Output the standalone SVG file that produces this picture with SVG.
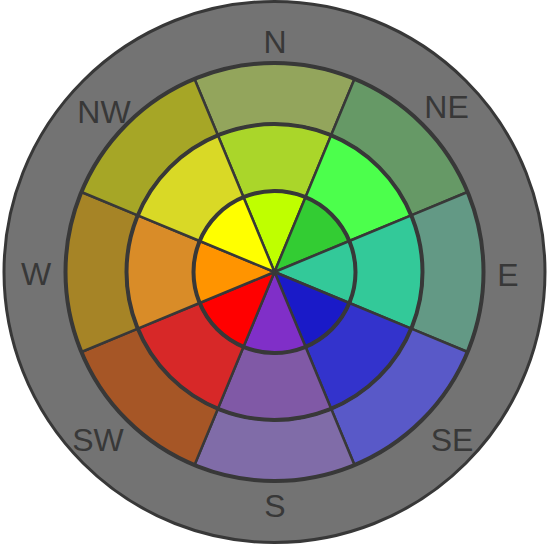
<svg xmlns="http://www.w3.org/2000/svg" xmlns:xlink="http://www.w3.org/1999/xlink" width="550" height="546" viewBox="0 0 550 546">
<style>
  .sec { stroke: #383838; stroke-width: 2.5; stroke-linejoin: round; }
  .ring { fill: none; stroke: #383838; stroke-width: 4; }
  .lbl { font-family: "Liberation Sans", Arial, sans-serif; font-size: 32px; fill: #383838; text-anchor: middle; }
</style>
<defs>
  <path id="po" d="M -79.98 -193.09 A 209 209 0 0 1 79.98 -193.09 L 56.64 -136.73 A 148 148 0 0 0 -56.64 -136.73 Z"/>
  <path id="pm" d="M -56.64 -136.73 A 148 148 0 0 1 56.64 -136.73 L 31 -74.83 A 81 81 0 0 0 -31 -74.83 Z"/>
  <path id="pi" d="M -31 -74.83 A 81 81 0 0 1 31 -74.83 L 0 0 Z"/>
</defs>
<g id="background">
  <circle cx="274.5" cy="272" r="270.5" fill="#737373" stroke="#383838" stroke-width="3"/>
</g>
<g transform="translate(274.5,272)">
  <g id="sector-N">
    <use xlink:href="#po" class="sec" fill="#93A55C"/>
    <use xlink:href="#pm" class="sec" fill="#AAD62A"/>
    <use xlink:href="#pi" class="sec" fill="#BFFF00"/>
  </g>
  <g id="sector-NE" transform="rotate(45)">
    <use xlink:href="#po" class="sec" fill="#669966"/>
    <use xlink:href="#pm" class="sec" fill="#4CFF4C"/>
    <use xlink:href="#pi" class="sec" fill="#33CC33"/>
  </g>
  <g id="sector-E" transform="rotate(90)">
    <use xlink:href="#po" class="sec" fill="#639985"/>
    <use xlink:href="#pm" class="sec" fill="#33C999"/>
    <use xlink:href="#pi" class="sec" fill="#33C999"/>
  </g>
  <g id="sector-SE" transform="rotate(135)">
    <use xlink:href="#po" class="sec" fill="#5959C8"/>
    <use xlink:href="#pm" class="sec" fill="#3333CC"/>
    <use xlink:href="#pi" class="sec" fill="#1A1AC8"/>
  </g>
  <g id="sector-S" transform="rotate(180)">
    <use xlink:href="#po" class="sec" fill="#806CA8"/>
    <use xlink:href="#pm" class="sec" fill="#8059A6"/>
    <use xlink:href="#pi" class="sec" fill="#802FC8"/>
  </g>
  <g id="sector-SW" transform="rotate(225)">
    <use xlink:href="#po" class="sec" fill="#A65626"/>
    <use xlink:href="#pm" class="sec" fill="#D72828"/>
    <use xlink:href="#pi" class="sec" fill="#FF0000"/>
  </g>
  <g id="sector-W" transform="rotate(270)">
    <use xlink:href="#po" class="sec" fill="#A68426"/>
    <use xlink:href="#pm" class="sec" fill="#D98C28"/>
    <use xlink:href="#pi" class="sec" fill="#FF9400"/>
  </g>
  <g id="sector-NW" transform="rotate(315)">
    <use xlink:href="#po" class="sec" fill="#A6A626"/>
    <use xlink:href="#pm" class="sec" fill="#D9D926"/>
    <use xlink:href="#pi" class="sec" fill="#FFFF00"/>
  </g>
  <g id="rings">
    <circle class="ring" r="81"/>
    <circle class="ring" r="148"/>
    <circle class="ring" r="209"/>
  </g>
</g>
<g id="labels">
  <text class="lbl" x="275" y="53">N</text>
  <text class="lbl" x="446.5" y="118">NE</text>
  <text class="lbl" x="508" y="285.5">E</text>
  <text class="lbl" x="452" y="451">SE</text>
  <text class="lbl" x="275" y="516.5">S</text>
  <text class="lbl" x="98" y="451">SW</text>
  <text class="lbl" x="36" y="285">W</text>
  <text class="lbl" x="104" y="123">NW</text>
</g>
</svg>
